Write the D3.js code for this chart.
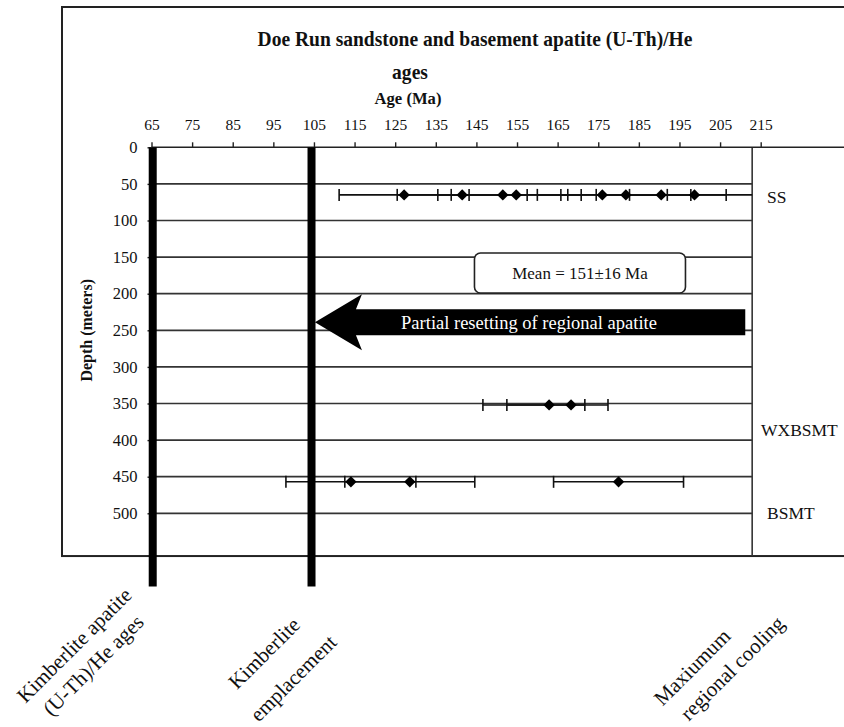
<!DOCTYPE html>
<html>
<head>
<meta charset="utf-8">
<script src="https://cdn.jsdelivr.net/npm/d3@7"></script>
<style>
  body { margin: 0; background: #fff; }
  svg { display: block; }
  text { font-family: "Liberation Serif", "Times New Roman", Times, serif; fill: #111; }
</style>
</head>
<body>
<svg id="chart" width="844" height="727"></svg>
<script>
// ---- data ----
const ageTicks = [65, 75, 85, 95, 105, 115, 125, 135, 145, 155, 165, 175, 185, 195, 205, 215];
const depthTicks = [0, 50, 100, 150, 200, 250, 300, 350, 400, 450, 500];

// Doe Run sandstone (SS) apatite ages, Ma, with error (Ma)
const ssAges   = [127.2, 141.5, 151.5, 154.8, 176.0, 181.8, 190.5, 198.7];
const ssErrors = [16, 16, 16, 16, 16, 16, 16, 16];
const ssDepth = 65;

// weathered basement (WXBSMT), asymmetric errors
const wxAges    = [162.9, 168.3];
const wxErrLow  = [16.3, 15.8];
const wxErrHigh = [8.8, 9.1];
const wxDepth = 352;

// basement (BSMT)
const bsAges   = [114.1, 128.6, 180.0];
const bsErrors = [16, 16, 16];
const bsDepth = 457;

// kimberlite events, Ma
const eventAges = [65.3, 104.4];
const eventLabels = [
  ["Kimberlite apatite", "(U-Th)/He ages"],
  ["Kimberlite", "emplacement"],
  ["Maxiumum", "regional cooling"]
];
const zoneLabels = ["SS", "WXBSMT", "BSMT"];
const titleLines = ["Doe Run sandstone and basement apatite (U-Th)/He", "ages"];
const meanLabel = "Mean = 151\u00b116 Ma";
const arrowLabel = "Partial resetting of regional apatite";

// ---- layout ----
const svg = d3.select("#chart");
const W = 844, H = 727;
svg.append("rect").attr("width", W).attr("height", H).attr("fill", "#fff");

const x = d3.scaleLinear().domain([65, 215]).range([151.5, 760.7]);
const y = d3.scaleLinear().domain([0, 500]).range([147.3, 513.3]);
const plotMaxAge = 212.9;     // right edge of the plot area
const plotMaxDepth = 558.4;   // bottom of the plot area
const plotL = x(65), plotR = x(plotMaxAge), plotT = y(0), plotB = y(plotMaxDepth);

// outer chart frame (continues past the right edge)
svg.append("rect")
  .attr("x", 62).attr("y", 7).attr("width", 900).attr("height", plotB - 7)
  .attr("fill", "none").attr("stroke", "#222").attr("stroke-width", 2);

// titles (slightly condensed bold serif)
const titleX = [475, 410], titleY = [46, 79];
titleLines.forEach((t, i) => {
  svg.append("text")
    .attr("transform", `translate(${titleX[i]},${titleY[i]}) scale(0.93,1)`)
    .attr("text-anchor", "middle")
    .attr("font-size", 21).attr("font-weight", "bold")
    .text(t);
});
svg.append("text")
  .attr("transform", `translate(408,104) scale(0.95,1)`)
  .attr("text-anchor", "middle")
  .attr("font-size", 17.5).attr("font-weight", "bold")
  .text("Age (Ma)");

// y axis title
svg.append("text")
  .attr("transform", `translate(92,${(y(150) + y(350)) / 2}) rotate(-90)`)
  .attr("text-anchor", "middle")
  .attr("font-size", 16).attr("font-weight", "bold")
  .text("Depth (meters)");

// horizontal gridlines
svg.append("g").selectAll("line")
  .data(depthTicks.filter(d => d > 0))
  .join("line")
  .attr("x1", plotL).attr("x2", plotR)
  .attr("y1", d => y(d)).attr("y2", d => y(d))
  .attr("stroke", "#333").attr("stroke-width", 1.7);

// right panel divider
svg.append("line")
  .attr("x1", plotR).attr("x2", plotR).attr("y1", plotT).attr("y2", plotB)
  .attr("stroke", "#333").attr("stroke-width", 1.6);

// top age axis
const xAxis = d3.axisTop(x).tickValues(ageTicks).tickSize(5).tickPadding(12);
const gx = svg.append("g").attr("transform", `translate(0,${plotT})`).call(xAxis);
gx.select(".domain").remove();
gx.selectAll(".tick line").attr("stroke", "#222").attr("stroke-width", 1.4);
gx.selectAll(".tick text").attr("font-size", 15.5).attr("fill", "#111")
  .style("font-family", '"Liberation Serif", serif');
svg.append("line")
  .attr("x1", plotL).attr("x2", W).attr("y1", plotT).attr("y2", plotT)
  .attr("stroke", "#222").attr("stroke-width", 1.6);

// left depth axis
const yAxis = d3.axisLeft(y).tickValues(depthTicks).tickSize(4).tickPadding(10);
const gy = svg.append("g").attr("transform", `translate(${plotL},0)`).call(yAxis);
gy.select(".domain").remove();
gy.selectAll(".tick line").attr("stroke", "#222").attr("stroke-width", 1.4);
gy.selectAll(".tick text").attr("font-size", 16.5).attr("fill", "#111")
  .style("font-family", '"Liberation Serif", serif');

// zone labels in the right panel
const zoneY = [y(68), y(386), y(500)];
const zoneX = [767, 761, 767];
zoneLabels.forEach((t, i) => {
  svg.append("text")
    .attr("x", zoneX[i]).attr("y", zoneY[i]).attr("dy", "0.35em")
    .attr("font-size", 17.5).text(t);
});

// mean box
const meanG = svg.append("g").attr("transform", `translate(${x(170.5)},${y(171.7)})`);
meanG.append("rect")
  .attr("x", -105.5).attr("y", -20).attr("width", 211).attr("height", 40).attr("rx", 6)
  .attr("fill", "#fff").attr("stroke", "#222").attr("stroke-width", 1.6);
meanG.append("text").attr("text-anchor", "middle").attr("dy", "0.35em")
  .attr("font-size", 17).text(meanLabel);

// resetting arrow
const tipX = x(105) + 1, endX = x(211.2), ay = y(239);
const shaft = 13, headH = 28, headL = 47, notch = 41;
svg.append("path")
  .attr("d", d3.line()([
    [tipX, ay], [tipX + headL, ay - headH], [tipX + notch, ay - shaft], [endX, ay - shaft],
    [endX, ay + shaft], [tipX + notch, ay + shaft], [tipX + headL, ay + headH]
  ]) + "Z")
  .attr("fill", "#000");
svg.append("text")
  .attr("x", 529).attr("y", ay).attr("dy", "0.35em")
  .attr("text-anchor", "middle").attr("font-size", 18.5)
  .style("fill", "#fff").text(arrowLabel);

// error bars and sample markers
function drawGroup(ages, errLow, errHigh, depth) {
  const g = svg.append("g");
  const cy = y(depth);
  const rows = ages.map((a, i) => ({ a, lo: a - errLow[i], hi: a + errHigh[i] }));
  g.selectAll("line.bar").data(rows).join("line").attr("class", "bar")
    .attr("x1", d => x(d.lo)).attr("x2", d => Math.min(x(d.hi), plotR))
    .attr("y1", cy).attr("y2", cy)
    .attr("stroke", "#111").attr("stroke-width", 1.6);
  const caps = [];
  rows.forEach(d => {
    [d.lo, d.hi].forEach(v => { if (x(v) <= plotR) caps.push(v); });
  });
  g.selectAll("line.cap").data(caps).join("line").attr("class", "cap")
    .attr("x1", d => x(d)).attr("x2", d => x(d))
    .attr("y1", cy - 6).attr("y2", cy + 6)
    .attr("stroke", "#111").attr("stroke-width", 1.6);
  g.selectAll("path.pt").data(rows).join("path").attr("class", "pt")
    .attr("d", d3.symbol(d3.symbolSquare, 64)())
    .attr("transform", d => `translate(${x(d.a)},${cy}) rotate(45)`)
    .attr("fill", "#000");
}
drawGroup(ssAges, ssErrors, ssErrors, ssDepth);
drawGroup(wxAges, wxErrLow, wxErrHigh, wxDepth);
drawGroup(bsAges, bsErrors, bsErrors, bsDepth);

// kimberlite event bars, running below the frame
svg.append("g").selectAll("rect")
  .data(eventAges)
  .join("rect")
  .attr("x", d => x(d) - 4).attr("width", 8)
  .attr("y", plotT).attr("height", y(600) - plotT)
  .attr("fill", "#000");

// rotated event labels below the chart, one centre point per line
const labelCentres = [
  [[74, 645], [93, 665]],
  [[264, 653], [293, 678]],
  [[692, 667], [732, 668]]
];
eventLabels.forEach((lines, i) => {
  lines.forEach((t, j) => {
    const [cx, cy] = labelCentres[i][j];
    svg.append("text")
      .attr("transform", `translate(${cx},${cy}) rotate(-45)`)
      .attr("text-anchor", "middle").attr("dy", "0.35em")
      .attr("font-size", 21).text(t);
  });
});
</script>
</body>
</html>
